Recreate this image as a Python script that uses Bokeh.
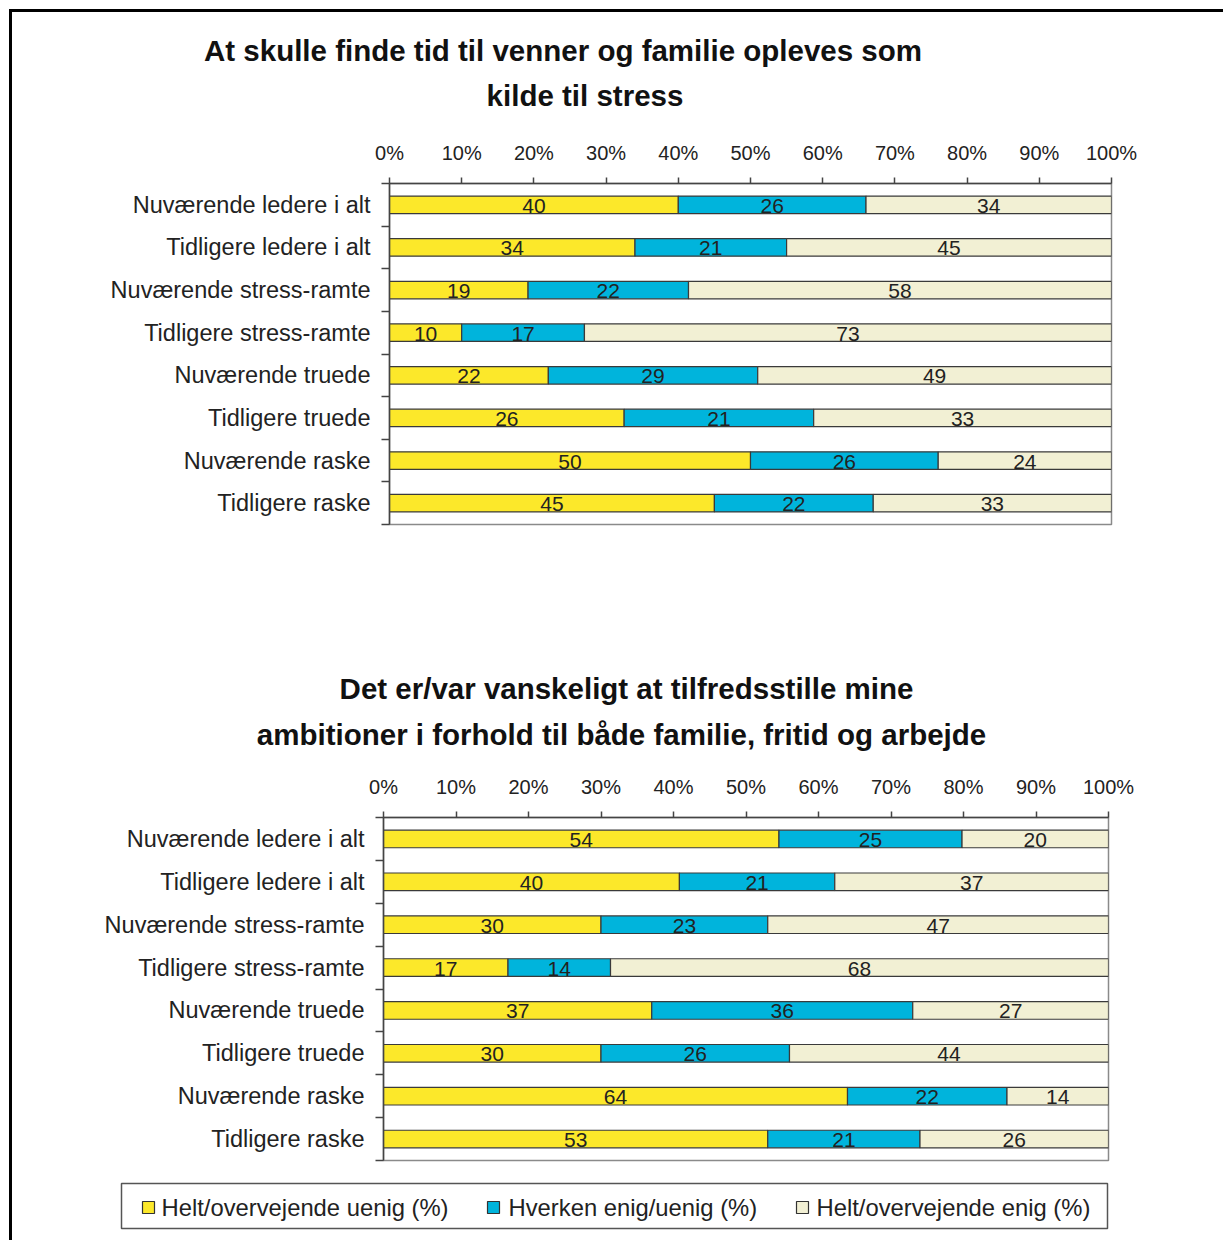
from bokeh.plotting import figure
from bokeh.layouts import column, row
from bokeh.models import Range1d, FixedTicker, ColumnDataSource
from bokeh.core.properties import value
from bokeh.embed import file_html
from bokeh.resources import INLINE

# ---------------- data ----------------
categories = [
    "Nuværende ledere i alt",
    "Tidligere ledere i alt",
    "Nuværende stress-ramte",
    "Tidligere stress-ramte",
    "Nuværende truede",
    "Tidligere truede",
    "Nuværende raske",
    "Tidligere raske",
]
tick_values = [0, 10, 20, 30, 40, 50, 60, 70, 80, 90, 100]
tick_labels = ["0%", "10%", "20%", "30%", "40%", "50%", "60%", "70%", "80%", "90%", "100%"]
series_names = ["Helt/overvejende uenig (%)", "Hverken enig/uenig (%)", "Helt/overvejende enig (%)"]
series_colors = ["#FCE82A", "#00B4DC", "#F2F0D4"]

title1 = ["At skulle finde tid til venner og familie opleves som", "kilde til stress"]
uenig_1 = [40, 34, 19, 10, 22, 26, 50, 45]
hverken_1 = [26, 21, 22, 17, 29, 21, 26, 22]
enig_1 = [34, 45, 58, 73, 49, 33, 24, 33]

title2 = ["Det er/var vanskeligt at tilfredsstille mine",
          "ambitioner i forhold til både familie, fritid og arbejde"]
uenig_2 = [54, 40, 30, 17, 37, 30, 64, 53]
hverken_2 = [25, 21, 23, 14, 36, 26, 22, 21]
enig_2 = [20, 37, 47, 68, 27, 44, 14, 26]

# ---------------- style ----------------
FONT = "Liberation Sans"
W = 1211
TXT = "#222222"
AX = "#444444"


def text_fig(height):
    # frame covers the whole figure; one data unit equals one pixel
    p = figure(width=W, height=height, x_range=Range1d(0, W), y_range=Range1d(height, 0),
               min_border=0, toolbar_location=None, output_backend="svg",
               x_axis_location=None, y_axis_location=None)
    p.grid.visible = False
    p.outline_line_color = None
    return p


def title_fig(lines, height, xs, ys):
    p = text_fig(height)
    p.text(x=xs, y=ys, text=lines, text_align="center", text_baseline="middle",
           text_font=value(FONT), text_font_style="bold", text_font_size="29.5px",
           text_color="#111111")
    return p


def chart(uenig, hverken, enig, height, bl, br, bt, bb):
    n = len(categories)
    p = figure(width=W, height=height, x_range=Range1d(0, 100),
               y_range=Range1d(n - 0.5, -0.5), x_axis_location="above",
               min_border_left=bl, min_border_right=br, min_border_top=bt,
               min_border_bottom=bb, toolbar_location=None, output_backend="svg")
    p.grid.visible = False
    p.outline_line_color = "#8a8a8a"
    p.outline_line_width = 1.5

    series = [uenig, hverken, enig]
    totals = [sum(t) for t in zip(*series)]
    left = [0.0] * n
    for vals, color in zip(series, series_colors):
        widths = [v / t * 100.0 for v, t in zip(vals, totals)]
        right = [l + w for l, w in zip(left, widths)]
        src = ColumnDataSource(dict(
            y=list(range(n)), left=left, right=right,
            mid=[(l + r) / 2 for l, r in zip(left, right)],
            lab=[str(v) for v in vals]))
        p.hbar(y="y", left="left", right="right", height=0.41, source=src,
               fill_color=color, line_color="#3a3a3a", line_width=1.2)
        p.text(x="mid", y="y", text="lab", source=src, text_align="center",
               text_baseline="middle", text_font=value(FONT), text_font_size="21px",
               text_color=TXT, y_offset=1)
        left = right

    xa = p.xaxis[0]
    xa.ticker = FixedTicker(ticks=tick_values, minor_ticks=[])
    xa.major_label_overrides = dict(zip(tick_values, tick_labels))
    xa.major_tick_out = 6
    xa.major_tick_in = 0
    xa.minor_tick_line_color = None
    xa.axis_line_color = AX
    xa.axis_line_width = 1.5
    xa.major_tick_line_color = AX
    xa.major_tick_line_width = 1.5
    xa.major_label_text_font = FONT
    xa.major_label_text_font_size = "20px"
    xa.major_label_text_color = TXT
    xa.major_label_standoff = 14

    ya = p.yaxis[0]
    ya.ticker = FixedTicker(ticks=list(range(n)), minor_ticks=[i - 0.5 for i in range(n + 1)])
    ya.major_label_overrides = dict(zip(range(n), categories))
    ya.major_tick_line_color = None
    ya.major_tick_out = 0
    ya.major_tick_in = 0
    ya.minor_tick_out = 8
    ya.minor_tick_in = 0
    ya.minor_tick_line_color = AX
    ya.minor_tick_line_width = 1.5
    ya.axis_line_color = AX
    ya.axis_line_width = 1.5
    ya.major_label_text_font = FONT
    ya.major_label_text_font_size = "23.5px"
    ya.major_label_text_color = TXT
    ya.major_label_standoff = 11
    return p


t1 = title_fig(title1, 116, [550.5, 572.5], [38, 83])
c1 = chart(uenig_1, hverken_1, enig_1, 412, 377, 112, 55, 16)
t2 = title_fig(title2, 220, [614, 609], [148, 194])
c2 = chart(uenig_2, hverken_2, enig_2, 410, 371, 115, 57, 10)

leg = text_fig(70)
leg.quad(left=[109], right=[1095], top=[13], bottom=[58], fill_color="white",
         line_color="#555555", line_width=1.5)
leg.rect(x=[136, 481, 790], y=[37, 37, 37], width=12, height=12,
         fill_color=series_colors, line_color="#333333", line_width=1.2)
leg.text(x=[149, 496, 804], y=[37, 37, 37], text=series_names, text_align="left",
         text_baseline="middle", text_font=value(FONT), text_font_size="23.8px",
         text_color=TXT)

layout = column(row(t1), row(c1), row(t2), row(c2), row(leg), margin=(9, 0, 0, 9),
                styles={"border-top": "3px solid #000000", "border-left": "3px solid #000000"})

open("out.html", "w").write(file_html(layout, INLINE))
